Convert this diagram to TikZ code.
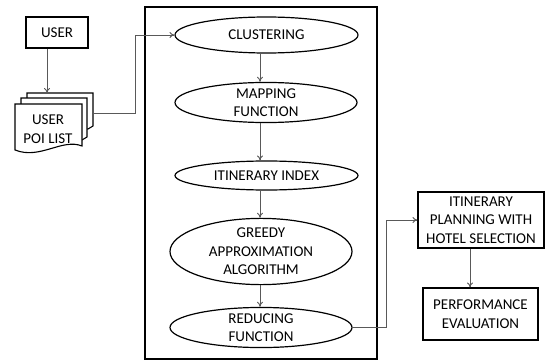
\documentclass[tikz,border=0pt]{standalone}
\usepackage{fontspec}
\setmainfont{Carlito}
\usetikzlibrary{shapes.geometric,arrows.meta}
\begin{document}
\begin{tikzpicture}[x=1pt,y=-1pt,
  every node/.style={font=\fontsize{15}{18.5}\selectfont, align=center, inner sep=0pt},
  boxnode/.style={draw=black, line width=1.2pt, rectangle, minimum width=#1},
  ellnode/.style={draw=black, line width=1.2pt, ellipse},
  sheet/.style={draw=black, line width=1.1pt, fill=white},
  conn/.style={draw=black!65, line width=0.9pt, -{To[length=5pt,width=6pt]}},
  plain/.style={draw=black!65, line width=0.9pt}
]
\useasboundingbox (0,0) rectangle (546,361);

% frame
\draw[line width=1.2pt] (145,7) rectangle (377,359);

% user box
\node[boxnode=62pt, minimum height=31pt] (user) at (57,32.5) {USER};

% multi-document POI list
\draw[sheet] (27,128) -- (27,93) -- (93,93) -- (93,126) .. controls (91,127) and (90,128) .. (88,129) -- cycle;
\draw[sheet] (21,140) -- (21,98) -- (87,98) -- (87,137) .. controls (85,138) and (84,139) .. (82,140) -- cycle;
\draw[sheet] (15,150) -- (15,104) -- (82,104) -- (82,146) .. controls (62,138) and (40,160) .. (15,150) -- cycle;
\node (poi) at (48,129) {USER\\POI LIST};
\coordinate (poitop) at (47,93);
\coordinate (poiout) at (93,113);

% ellipses
\node[ellnode, minimum width=183pt, minimum height=36pt] (clus) at (266.5,35) {CLUSTERING};
\node[ellnode, minimum width=182pt, minimum height=39pt] (map) at (266,102.5) {MAPPING\\FUNCTION};
\node[ellnode, minimum width=183pt, minimum height=29pt] (idx) at (266.5,175.5) {ITINERARY INDEX};
\node[ellnode, minimum width=182pt, minimum height=57pt] (greedy) at (261,251.5) {GREEDY\\APPROXIMATION\\ALGORITHM};
\node[ellnode, minimum width=182pt, minimum height=35pt] (reduce) at (261,327.5) {REDUCING\\FUNCTION};

% right boxes
\node[boxnode=126pt, minimum height=56pt] (itin) at (481,220) {ITINERARY\\PLANNING WITH\\HOTEL SELECTION};
\node[boxnode=115pt, minimum height=52pt] (perf) at (480.5,314) {PERFORMANCE\\EVALUATION};

\coordinate (ax) at (260,0);
\coordinate (bx) at (470,0);

% connectors
\draw[conn] (user.south -| poitop) -- (poitop);
\draw[conn] (poiout) -- (135,113) |- (clus.west);
\draw[conn] (clus.south -| ax) -- (map.north -| ax);
\draw[conn] (map.south -| ax) -- (idx.north -| ax);
\draw[conn] (idx.south -| ax) -- (greedy.north -| ax);
\draw[conn] (greedy.south -| ax) -- (reduce.north -| ax);
\draw[conn] (reduce.east) -- (386,327.5) |- (itin.west);
\draw[conn] (itin.south -| bx) -- (perf.north -| bx);
\end{tikzpicture}
\end{document}
